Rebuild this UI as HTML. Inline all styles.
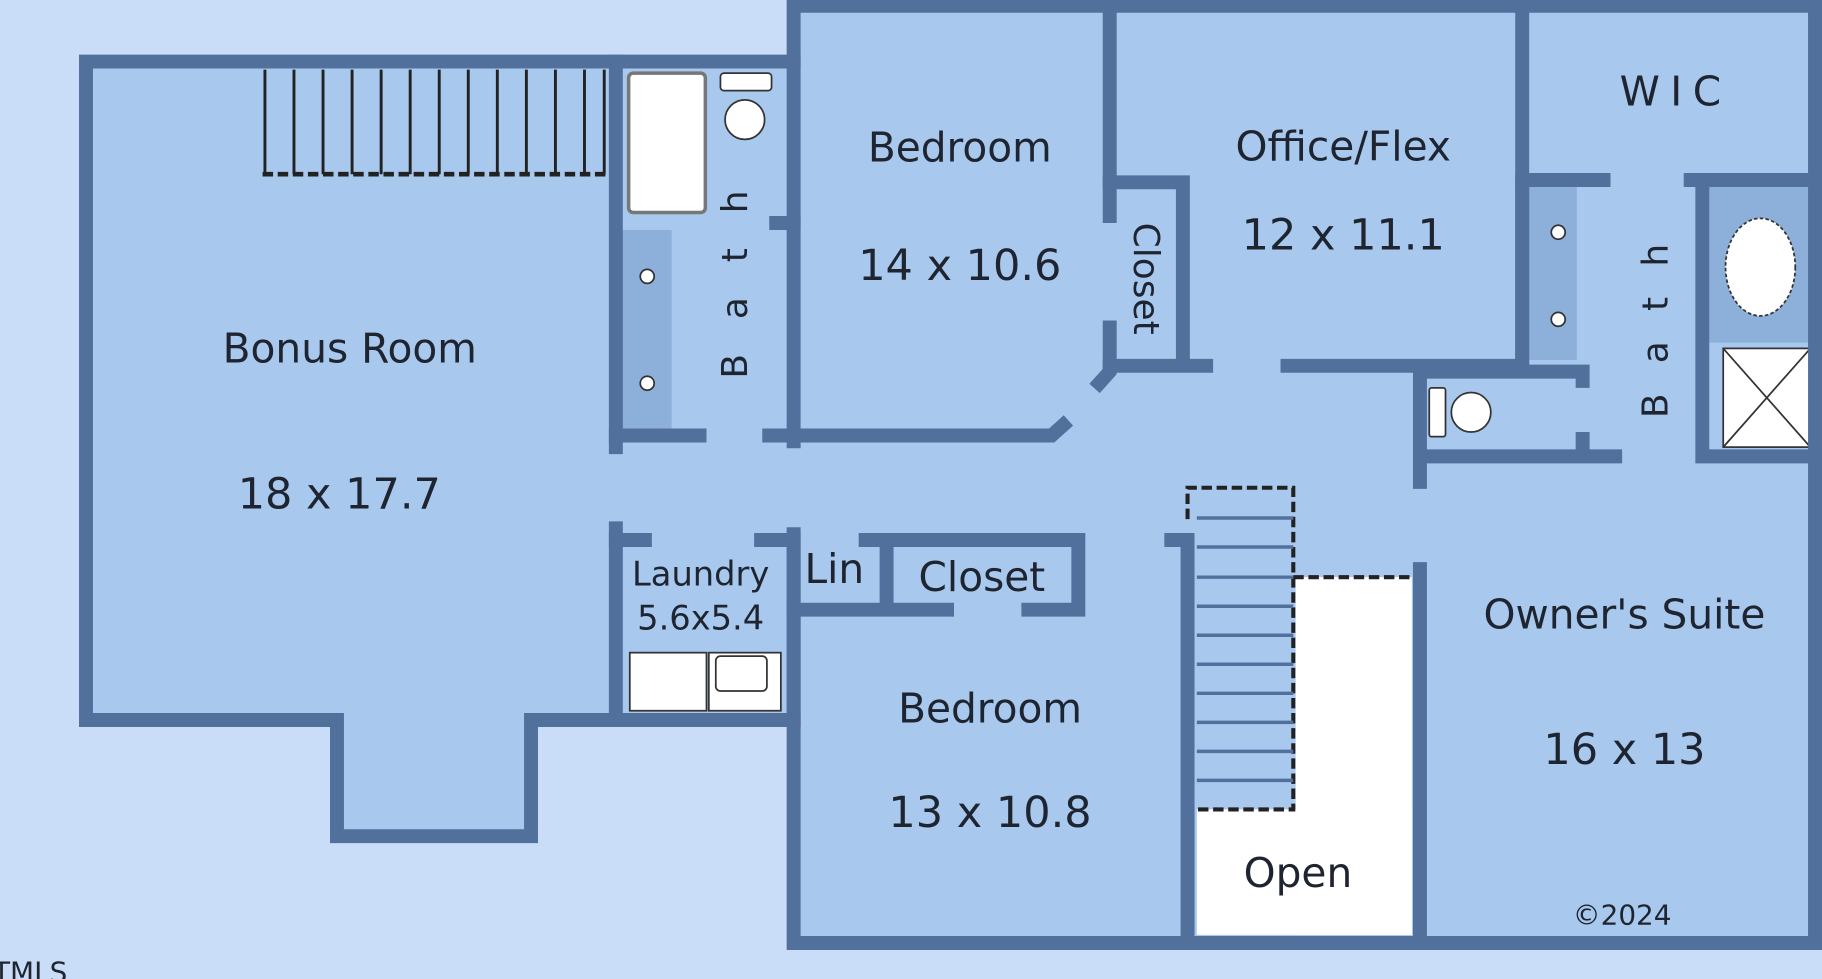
<!DOCTYPE html>
<html><head><meta charset="utf-8"><style>
html,body{margin:0;padding:0;background:#c9ddf8;}
svg{display:block}
text{font-family:"DejaVu Sans","Liberation Sans",sans-serif;fill:#1f2530;}
</style></head><body>
<svg width="1822" height="979" viewBox="0 0 1568 843" preserveAspectRatio="none" xmlns="http://www.w3.org/2000/svg">
<rect width="1568" height="843" fill="#c9ddf8"/>
<g fill="#a8c8ee">
<path d="M74 53 H683 V5 H1568 V812 H683 V620 H457 V720 H290 V620 H74 Z"/>
</g>
<g fill="#fff">
<rect x="1115" y="497" width="100" height="308"/>
<rect x="1030" y="697" width="185" height="108"/>
</g>
<g fill="#8db0da">
<rect x="535" y="198" width="43" height="172"/>
<rect x="1312" y="160" width="45" height="150"/>
<rect x="1468" y="160" width="92" height="135"/>
</g>
<g fill="#fff" stroke="#333" stroke-width="1.5">
<rect x="541" y="63" width="66" height="120" rx="4" stroke="#777" stroke-width="3"/>
<rect x="620" y="63" width="44" height="15" rx="3"/>
<circle cx="641" cy="103" r="17"/>
<circle cx="557" cy="238" r="6"/><circle cx="557" cy="330" r="6"/>
<circle cx="1341" cy="200" r="6"/><circle cx="1341" cy="275" r="6"/>
<ellipse cx="1515" cy="230" rx="30" ry="42" stroke-dasharray="3 2"/>
<rect x="1483" y="300" width="75" height="85"/>
<line x1="1483" y1="300" x2="1558" y2="385"/><line x1="1558" y1="300" x2="1483" y2="385"/>
<rect x="1230" y="334" width="14" height="42" rx="2"/>
<circle cx="1266" cy="355" r="17"/>
<rect x="542" y="562" width="66" height="50"/>
<rect x="610" y="562" width="62" height="50"/>
<rect x="616" y="565" width="44" height="30" rx="4"/>
</g>
<g stroke="#222" stroke-width="2.5">
<line x1="228" y1="60" x2="228" y2="150"/><line x1="253" y1="60" x2="253" y2="150"/>
<line x1="278" y1="60" x2="278" y2="150"/><line x1="303" y1="60" x2="303" y2="150"/>
<line x1="328" y1="60" x2="328" y2="150"/><line x1="353" y1="60" x2="353" y2="150"/>
<line x1="378" y1="60" x2="378" y2="150"/><line x1="403" y1="60" x2="403" y2="150"/>
<line x1="428" y1="60" x2="428" y2="150"/><line x1="453" y1="60" x2="453" y2="150"/>
<line x1="478" y1="60" x2="478" y2="150"/><line x1="503" y1="60" x2="503" y2="150"/>
<line x1="520" y1="60" x2="520" y2="150"/>
<line x1="226" y1="150" x2="524" y2="150" stroke-dasharray="9 4" stroke-width="4"/>
</g>
<g stroke="#222" stroke-width="2.5" fill="none">
<path d="M1022 447 V420 H1113 V697 H1030" stroke-dasharray="9 4" stroke-width="3.5"/>
<path d="M1113 497 H1215" stroke-dasharray="9 4" stroke-width="3.5"/>
</g>
<g stroke="#52709c" stroke-width="3">
<line x1="1030" y1="446" x2="1113" y2="446"/><line x1="1030" y1="471" x2="1113" y2="471"/>
<line x1="1030" y1="497" x2="1113" y2="497"/><line x1="1030" y1="522" x2="1113" y2="522"/>
<line x1="1030" y1="547" x2="1113" y2="547"/><line x1="1030" y1="572" x2="1113" y2="572"/>
<line x1="1030" y1="597" x2="1113" y2="597"/><line x1="1030" y1="622" x2="1113" y2="622"/>
<line x1="1030" y1="647" x2="1113" y2="647"/><line x1="1030" y1="672" x2="1113" y2="672"/>
</g>
<g stroke="#52709c" stroke-width="12" fill="none" stroke-linecap="square">
<path d="M683 380 V5 H1562 V812 H683 V460"/>
<path d="M530 385 V53 H74 V620 H290 V720 H457 V620 H683"/>
<path d="M530 53 H683"/>
<path d="M530 455 V620"/>
<path d="M530 465 H555 M655 465 H683 V525 H815 M885 525 H928 V465 H745 M763 465 V520 M683 525 V620"/>
<path d="M530 375 H602 M662 375 H905 L915 366"/>
<path d="M668 192 H683"/>
<path d="M955 5 V186 M955 282 V320 L946 330"/>
<path d="M955 157 H1018 V315 H955 M1018 315 H1038 M1108 315 H1310 V5"/>
<path d="M1310 155 H1380 M1455 155 H1562 M1465 155 V393 M1470 393 H1562"/>
<path d="M1222 323 V415 M1222 320 H1362 V328 M1222 393 H1390 M1362 378 V393"/>
<path d="M1310 160 V315"/>
<path d="M1008 465 H1022 V812"/>
<path d="M1222 490 V812"/>
</g>
<g font-size="35" text-anchor="middle">
<text x="301" y="312">Bonus Room</text>
<text x="292" y="438" font-size="37">18 x 17.7</text>
<text x="826" y="139">Bedroom</text>
<text x="826" y="241" font-size="37">14 x 10.6</text>
<text x="1156" y="138">Office/Flex</text>
<text x="1156" y="215" font-size="37">12 x 11.1</text>
<text x="1442" y="91" letter-spacing="9">WIC</text>
<text x="852" y="622">Bedroom</text>
<text x="852" y="712" font-size="37">13 x 10.8</text>
<text x="845" y="509">Closet</text>
<text x="718" y="502">Lin</text>
<text x="1398" y="541">Owner's Suite</text>
<text x="1398" y="658" font-size="37">16 x 13</text>
<text x="1117" y="764">Open</text>
<text x="603" y="504" font-size="29">Laundry</text>
<text x="603" y="542" font-size="29">5.6x5.4</text>
<text x="1396" y="796" font-size="24">©2024</text>
<text transform="translate(976 240) rotate(90)" font-size="31">Closet</text>
<text transform="translate(643 230) rotate(-90)" font-size="31" letter-spacing="30">Bath</text>
<text transform="translate(1435 272) rotate(-90)" font-size="31" letter-spacing="26">Bath</text>
</g>
<text x="-6" y="845" font-size="24">TMLS</text>
</svg>
</body></html>
